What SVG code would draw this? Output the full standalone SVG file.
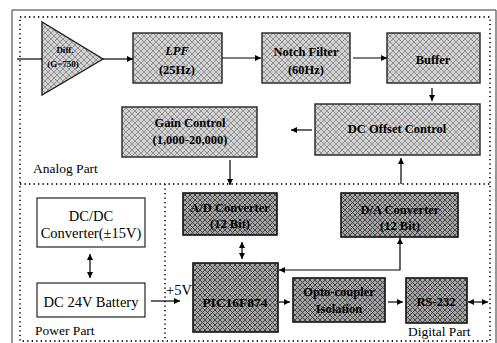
<svg xmlns="http://www.w3.org/2000/svg" width="497" height="343" viewBox="0 0 497 343" font-family="'Liberation Serif', 'DejaVu Serif', serif">
<defs>
<pattern id="hatchA" width="6" height="6" patternUnits="userSpaceOnUse"><rect width="6" height="6" fill="#d2d2d2"/><path d="M0 0L6 6M6 0L0 6" stroke="#7f7f7f" stroke-width="0.8"/></pattern>
<pattern id="hatchD" width="5" height="5" patternUnits="userSpaceOnUse"><rect width="5" height="5" fill="#a6a6a6"/><path d="M0 0L5 5M5 0L0 5" stroke="#3a3a3a" stroke-width="0.9"/></pattern>
<marker id="ah" viewBox="0 0 10 10" refX="10" refY="5" markerWidth="7" markerHeight="6" markerUnits="userSpaceOnUse" orient="auto-start-reverse"><path d="M0 0L10 5L0 10z" fill="#000"/></marker>
<style>
.ab{fill:url(#hatchA);stroke:#222;stroke-width:1.4}
.db{fill:url(#hatchD);stroke:#111;stroke-width:1.6}
.pb{fill:#fff;stroke:#222;stroke-width:1.2}
text{font-family:'Liberation Serif','DejaVu Serif',serif}
.t{font-size:12.5px;font-weight:bold;fill:#000;text-anchor:middle}
.n{font-size:14.5px;fill:#000;text-anchor:middle}
.lbl{font-size:13.5px;fill:#000}
.dot{fill:none;stroke:#222;stroke-width:1.8;stroke-dasharray:1.3 3.2}
.c{fill:none;stroke:#000;stroke-width:1.2}
</style>
</defs>
<rect width="497" height="343" fill="#fff"/>
<g id="frame">
<path d="M12 343V10H496V343" fill="none" stroke="#333" stroke-width="1"/>
<path class="dot" d="M20 17H490V341H20Z"/>
<path class="dot" d="M20 184H490"/>
<path class="dot" d="M165 184V341"/>
<text class="lbl" x="33" y="173">Analog Part</text>
<text class="lbl" x="35" y="335">Power Part</text>
<text class="lbl" x="408" y="336">Digital Part</text>
<text class="lbl" x="166" y="295" style="font-size:14.5px">+5V</text>
</g>
<g id="diff"><path d="M42 22L42 95L103 59Z" class="ab"/><text class="t" x="65" y="53" style="font-size:9px">Diff.</text><text class="t" x="63" y="67" style="font-size:9px">(G=750)</text></g>
<g id="lpf"><rect class="ab" x="133" y="33" width="89" height="50"/><text class="t" x="177" y="55" font-style="italic">LPF</text><text class="t" x="177" y="74">(25Hz)</text></g>
<g id="notch"><rect class="ab" x="262" y="33" width="88" height="50"/><text class="t" x="306" y="56">Notch Filter</text><text class="t" x="306" y="74">(60Hz)</text></g>
<g id="buffer"><rect class="ab" x="387" y="33" width="93" height="50"/><text class="t" x="433" y="64">Buffer</text></g>
<g id="dcoffset"><rect class="ab" x="315" y="104" width="165" height="51"/><text class="t" x="397" y="133">DC Offset Control</text></g>
<g id="gain"><rect class="ab" x="122" y="107" width="135" height="50"/><text class="t" x="190" y="127">Gain Control</text><text class="t" x="190" y="144">(1,000-20,000)</text></g>
<g id="adc"><rect class="db" x="183" y="193" width="94" height="42"/><text class="t" x="230" y="212">A/D Converter</text><text class="t" x="230" y="228">(12 Bit)</text></g>
<g id="dac"><rect class="db" x="341" y="193" width="117" height="44"/><text class="t" x="400" y="214">D/A Converter</text><text class="t" x="400" y="230">(12 Bit)</text></g>
<g id="pic"><rect class="db" x="193" y="263" width="85" height="69"/><text class="t" x="235" y="307" style="font-size:13.5px">PIC16F874</text></g>
<g id="opto"><rect class="db" x="293" y="278" width="92" height="44"/><text class="t" x="339" y="296">Opto-coupler</text><text class="t" x="339" y="313">Isolation</text></g>
<g id="rs232"><rect class="db" x="406" y="278" width="61" height="45"/><text class="t" x="436" y="306">RS-232</text></g>
<g id="dcdc"><rect class="pb" x="37" y="198" width="108" height="49"/><text class="n" x="91" y="221">DC/DC</text><text class="n" x="91" y="238">Converter(±15V)</text></g>
<g id="battery"><rect class="pb" x="37" y="283" width="108" height="34"/><text class="n" x="91" y="307">DC 24V Battery</text></g>
<g id="connectors">
<path class="c" d="M17 59H42"/>
<path class="c" d="M103 59H133" marker-end="url(#ah)"/>
<path class="c" d="M222 58H261" marker-end="url(#ah)"/>
<path class="c" d="M353 58H387" marker-end="url(#ah)"/>
<path class="c" d="M432 88V101" marker-end="url(#ah)"/>
<path class="c" d="M312 130H291" marker-end="url(#ah)"/>
<path class="c" d="M230 160V185" marker-end="url(#ah)"/>
<path class="c" d="M401 184V158" marker-end="url(#ah)"/>
<path class="c" d="M242 242V259" marker-start="url(#ah)" marker-end="url(#ah)"/>
<path class="c" d="M279 270H400V238" marker-start="url(#ah)" marker-end="url(#ah)"/>
<path class="c" d="M279 302H290" marker-end="url(#ah)"/>
<path class="c" d="M388 302H403" marker-end="url(#ah)"/>
<path class="c" d="M468 302H488" marker-start="url(#ah)" marker-end="url(#ah)"/>
<path class="c" d="M90 254V278" marker-start="url(#ah)" marker-end="url(#ah)"/>
<path class="c" d="M151 301H180" marker-end="url(#ah)"/>
</g>
</svg>
